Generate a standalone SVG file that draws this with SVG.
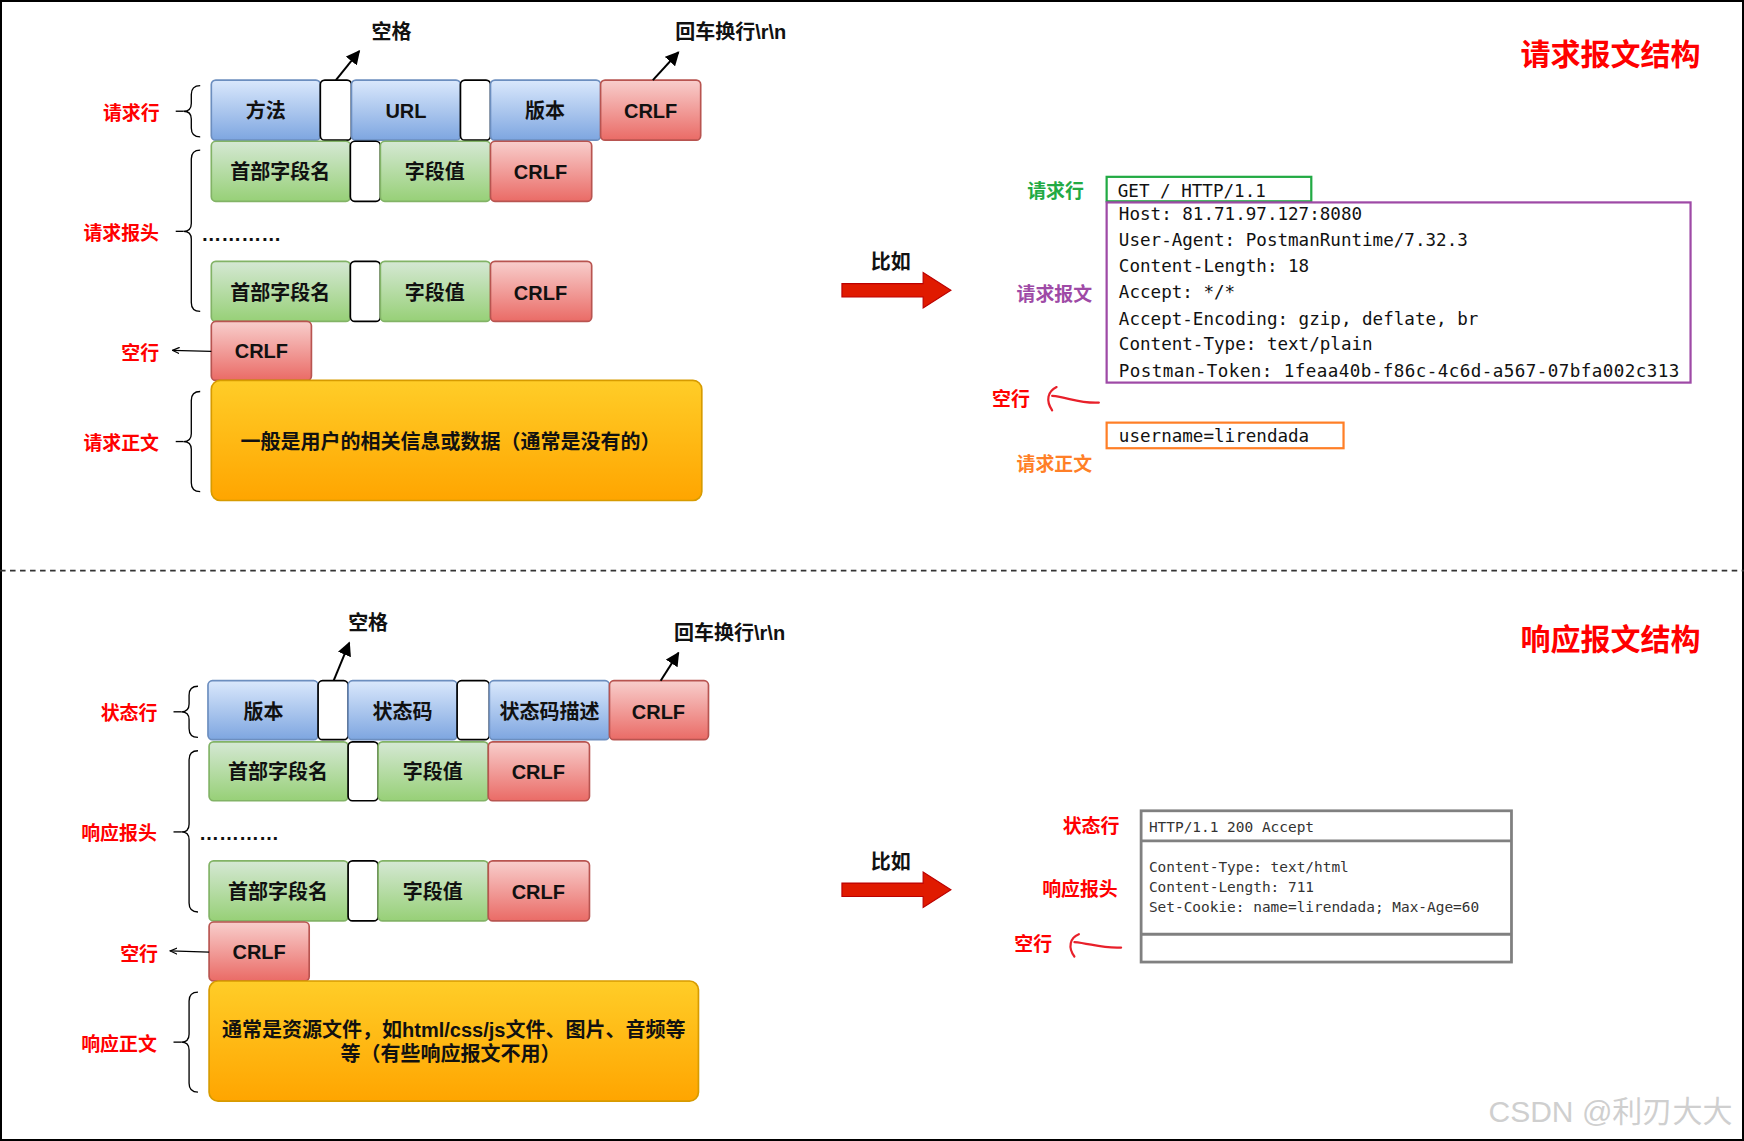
<svg xmlns="http://www.w3.org/2000/svg" width="1744" height="1141" viewBox="0 0 1744 1141">
<defs>
<linearGradient id="gb" x1="0" y1="0" x2="0" y2="1"><stop offset="0" stop-color="#dae8fc"/><stop offset="1" stop-color="#7ea6e0"/></linearGradient>
<linearGradient id="gg" x1="0" y1="0" x2="0" y2="1"><stop offset="0" stop-color="#d5e8d4"/><stop offset="1" stop-color="#97d077"/></linearGradient>
<linearGradient id="gr" x1="0" y1="0" x2="0" y2="1"><stop offset="0" stop-color="#f8cecc"/><stop offset="1" stop-color="#ea6b66"/></linearGradient>
<linearGradient id="go" x1="0" y1="0" x2="0" y2="1"><stop offset="0" stop-color="#ffcd28"/><stop offset="1" stop-color="#ffa500"/></linearGradient>
<marker id="ah" viewBox="0 0 10 10" refX="9" refY="5" markerWidth="7" markerHeight="7" orient="auto"><path d="M0,0 L10,5 L0,10 z" fill="#000"/></marker>
<marker id="ao" viewBox="0 0 10 10" refX="9" refY="5" markerWidth="6" markerHeight="6" orient="auto"><path d="M0,1 L9,5 L0,9" fill="none" stroke="#000" stroke-width="1.5"/></marker>
</defs>
<style>
.b{fill:url(#gb);stroke:#6c8ebf;stroke-width:1.5}
.g{fill:url(#gg);stroke:#82b366;stroke-width:1.5}
.r{fill:url(#gr);stroke:#b85450;stroke-width:1.5}
.o{fill:url(#go);stroke:#d79b00;stroke-width:1.5}
.w{fill:#fff;stroke:#000;stroke-width:1.5}
.t{font-family:"Liberation Sans","Noto Sans CJK SC",sans-serif;font-weight:bold;font-size:18px;text-anchor:middle;dominant-baseline:central;fill:#111}
.l{font-family:"Noto Sans CJK SC",sans-serif;font-weight:bold;font-size:17px;text-anchor:middle;dominant-baseline:central;fill:#f00}
.h{font-family:"Noto Sans CJK SC",sans-serif;font-weight:bold;font-size:27px;text-anchor:middle;dominant-baseline:central;fill:#f00}
.m{font-family:"DejaVu Sans Mono","Liberation Mono",monospace;font-size:15.8px;fill:#111}
.s{font-family:"DejaVu Sans Mono","Liberation Mono",monospace;font-size:13px;fill:#333}
.br{fill:none;stroke:#000;stroke-width:1.2}
.ln{fill:none;stroke:#000;stroke-width:1.8}
</style>
<rect x="0" y="0" width="1744" height="1141" fill="#fff"/>
<rect x="1" y="1" width="1742" height="1139" fill="none" stroke="#000" stroke-width="2"/>
<g transform="scale(1.1122)">
<line x1="0" y1="513" x2="1568" y2="513" stroke="#333" stroke-width="1.5" stroke-dasharray="5,4"/>

<g id="req-line">
<rect class="b" x="190" y="72" width="98" height="54" rx="4"/><text class="t" x="239" y="100">方法</text>
<rect class="w" x="288" y="72" width="28" height="54" rx="4"/>
<rect class="b" x="316" y="72" width="98" height="54" rx="4"/><text class="t" x="365" y="100">URL</text>
<rect class="w" x="414" y="72" width="27" height="54" rx="4"/>
<rect class="b" x="441" y="72" width="99" height="54" rx="4"/><text class="t" x="490" y="100">版本</text>
<rect class="r" x="540" y="72" width="90" height="54" rx="4"/><text class="t" x="585" y="100">CRLF</text>
</g>
<g id="req-h1">
<rect class="g" x="190" y="127" width="125" height="54" rx="4"/><text class="t" x="252" y="155">首部字段名</text>
<rect class="w" x="315" y="127" width="27" height="54" rx="4"/>
<rect class="g" x="342" y="127" width="99" height="54" rx="4"/><text class="t" x="391" y="155">字段值</text>
<rect class="r" x="441" y="127" width="91" height="54" rx="4"/><text class="t" x="486" y="155">CRLF</text>
</g>
<g id="req-dots"><text class="t" x="217" y="210" font-size="11">…………</text></g>
<g id="req-h2">
<rect class="g" x="190" y="235" width="125" height="54" rx="4"/><text class="t" x="252" y="263">首部字段名</text>
<rect class="w" x="315" y="235" width="27" height="54" rx="4"/>
<rect class="g" x="342" y="235" width="99" height="54" rx="4"/><text class="t" x="391" y="263">字段值</text>
<rect class="r" x="441" y="235" width="91" height="54" rx="4"/><text class="t" x="486" y="263">CRLF</text>
</g>
<g id="req-empty"><rect class="r" x="190" y="289" width="90" height="53" rx="4"/><text class="t" x="235" y="316">CRLF</text></g>
<g id="req-body"><rect class="o" x="190" y="342" width="441" height="108" rx="8"/><text class="t" x="405" y="397" font-size="17">一般是用户的相关信息或数据（通常是没有的）</text></g>
<g id="req-labels">
<text class="l" x="118" y="100">请求行</text>
<text class="l" x="109" y="208">请求报头</text>
<text class="l" x="126" y="316">空行</text>
<text class="l" x="109" y="397">请求正文</text>
<text class="t" x="352" y="29" font-size="17">空格</text>
<text class="t" x="657" y="29" font-size="17">回车换行\r\n</text>
<text class="h" x="1448" y="47">请求报文结构</text>
</g>
<g id="connectors-req">
<path class="br" d="M180,77 q-8,0 -8,8 v8 q0,7 -7,7 q7,0 7,7 v8 q0,8 8,8"/>
<path class="br" d="M180,135 q-8,0 -8,8 v58 q0,7 -7,7 q7,0 7,7 v57 q0,8 8,8"/>
<path class="br" d="M180,352 q-8,0 -8,8 v30 q0,7 -7,7 q7,0 7,7 v30 q0,8 8,8"/>
<line class="br" x1="165" y1="100" x2="158" y2="100"/>
<line class="br" x1="165" y1="208" x2="158" y2="208"/>
<line class="br" x1="165" y1="397" x2="158" y2="397"/>
<line x1="190" y1="316" x2="155" y2="315" stroke="#000" stroke-width="1.2" marker-end="url(#ao)"/>
<line class="ln" x1="302" y1="72" x2="323" y2="46" marker-end="url(#ah)"/>
<line class="ln" x1="587" y1="72" x2="610" y2="47" marker-end="url(#ah)"/>
</g>
<g id="req-example">
<text class="t" x="801" y="236" font-size="17">比如</text>
<path d="M757,255 H830 V245 L855,261 L830,277 V267 H757 Z" fill="#e01a00" stroke="#b00" stroke-width="1"/>
<text class="l" x="949" y="170" style="fill:#22aa44">请求行</text>
<rect x="995" y="159" width="184" height="22" fill="none" stroke="#22aa44" stroke-width="2"/>
<text class="m" x="1005" y="177">GET / HTTP/1.1</text>
<rect x="995" y="182" width="525" height="162" fill="none" stroke="#9e4aa6" stroke-width="2"/>
<text class="l" x="948" y="263" style="fill:#9e4aa6">请求报文</text>
<text class="m" x="1006" y="198">Host: 81.71.97.127:8080</text>
<text class="m" x="1006" y="221">User-Agent: PostmanRuntime/7.32.3</text>
<text class="m" x="1006" y="245">Content-Length: 18</text>
<text class="m" x="1006" y="268">Accept: */*</text>
<text class="m" x="1006" y="292">Accept-Encoding: gzip, deflate, br</text>
<text class="m" x="1006" y="315">Content-Type: text/plain</text>
<text class="m" x="1006" y="339" textLength="504" lengthAdjust="spacing">Postman-Token: 1feaa40b-f86c-4c6d-a567-07bfa002c313</text>
<text class="l" x="909" y="357">空行</text>
<path d="M988,362 C970,363 960,357 946,356 M950,348 C942,352 940,360 946,369" fill="none" stroke="#e8202a" stroke-width="2" stroke-linecap="round"/>
<rect x="995" y="380" width="213" height="23" fill="none" stroke="#ff7f27" stroke-width="2"/>
<text class="m" x="1006" y="397">username=lirendada</text>
<text class="l" x="948" y="416" style="fill:#ff7f27">请求正文</text>
</g>

<g id="res-line">
<rect class="b" x="187" y="612" width="99" height="53" rx="4"/><text class="t" x="237" y="640">版本</text>
<rect class="w" x="286" y="612" width="27" height="53" rx="4"/>
<rect class="b" x="313" y="612" width="98" height="53" rx="4"/><text class="t" x="362" y="640">状态码</text>
<rect class="w" x="411" y="612" width="29" height="53" rx="4"/>
<rect class="b" x="440" y="612" width="108" height="53" rx="4"/><text class="t" x="494" y="640">状态码描述</text>
<rect class="r" x="548" y="612" width="89" height="53" rx="4"/><text class="t" x="592" y="640">CRLF</text>
</g>
<g id="res-h1">
<rect class="g" x="188" y="667" width="125" height="53" rx="4"/><text class="t" x="250" y="694">首部字段名</text>
<rect class="w" x="313" y="667" width="27" height="53" rx="4"/>
<rect class="g" x="340" y="667" width="99" height="53" rx="4"/><text class="t" x="389" y="694">字段值</text>
<rect class="r" x="439" y="667" width="91" height="53" rx="4"/><text class="t" x="484" y="694">CRLF</text>
</g>
<g id="res-dots"><text class="t" x="215" y="749" font-size="11">…………</text></g>
<g id="res-h2">
<rect class="g" x="188" y="774" width="125" height="54" rx="4"/><text class="t" x="250" y="802">首部字段名</text>
<rect class="w" x="313" y="774" width="27" height="54" rx="4"/>
<rect class="g" x="340" y="774" width="99" height="54" rx="4"/><text class="t" x="389" y="802">字段值</text>
<rect class="r" x="439" y="774" width="91" height="54" rx="4"/><text class="t" x="484" y="802">CRLF</text>
</g>
<g id="res-empty"><rect class="r" x="188" y="829" width="90" height="53" rx="4"/><text class="t" x="233" y="856">CRLF</text></g>
<g id="res-body"><rect class="o" x="188" y="882" width="440" height="108" rx="8"/>
<text class="t" x="408" y="926" font-size="17">通常是资源文件，如html/css/js文件、图片、音频等</text>
<text class="t" x="405" y="948" font-size="17">等（有些响应报文不用）</text></g>
<g id="res-labels">
<text class="l" x="116" y="640">状态行</text>
<text class="l" x="107" y="748">响应报头</text>
<text class="l" x="125" y="856">空行</text>
<text class="l" x="107" y="937">响应正文</text>
<text class="t" x="331" y="560" font-size="17">空格</text>
<text class="t" x="656" y="569" font-size="17">回车换行\r\n</text>
<text class="h" x="1448" y="573">响应报文结构</text>
</g>
<g id="connectors-res">
<path class="br" d="M178,617 q-8,0 -8,8 v8 q0,7 -7,7 q7,0 7,7 v8 q0,8 8,8"/>
<path class="br" d="M178,675 q-8,0 -8,8 v58 q0,7 -7,7 q7,0 7,7 v57 q0,8 8,8"/>
<path class="br" d="M178,892 q-8,0 -8,8 v30 q0,7 -7,7 q7,0 7,7 v30 q0,8 8,8"/>
<line class="br" x1="163" y1="640" x2="156" y2="640"/>
<line class="br" x1="163" y1="748" x2="156" y2="748"/>
<line class="br" x1="163" y1="937" x2="156" y2="937"/>
<line x1="188" y1="856" x2="153" y2="855" stroke="#000" stroke-width="1.2" marker-end="url(#ao)"/>
<line class="ln" x1="300" y1="612" x2="314" y2="578" marker-end="url(#ah)"/>
<line class="ln" x1="594" y1="612" x2="610" y2="587" marker-end="url(#ah)"/>
</g>
<g id="res-example">
<text class="t" x="801" y="775" font-size="17">比如</text>
<path d="M757,794 H830 V784 L855,800 L830,816 V806 H757 Z" fill="#e01a00" stroke="#b00" stroke-width="1"/>
<rect x="1026" y="729" width="333" height="136" fill="none" stroke="#808080" stroke-width="2.5"/>
<line x1="1026" y1="756" x2="1359" y2="756" stroke="#808080" stroke-width="2.5"/>
<line x1="1026" y1="840" x2="1359" y2="840" stroke="#808080" stroke-width="2.5"/>
<text class="s" x="1033" y="748">HTTP/1.1 200 Accept</text>
<text class="s" x="1033" y="784">Content-Type: text/html</text>
<text class="s" x="1033" y="802">Content-Length: 711</text>
<text class="s" x="1033" y="820">Set-Cookie: name=lirendada; Max-Age=60</text>
<text class="l" x="981" y="741">状态行</text>
<text class="l" x="971" y="798">响应报头</text>
<text class="l" x="929" y="847">空行</text>
<path d="M1008,852 C990,853 980,848 966,847 M970,840 C962,843 960,852 966,860" fill="none" stroke="#e8202a" stroke-width="2" stroke-linecap="round"/>
</g>
<text x="1448" y="999" font-family="Liberation Sans,Noto Sans CJK SC,sans-serif" font-size="27" fill="#cfcfcf" text-anchor="middle" dominant-baseline="central">CSDN @利刃大大</text>
</g>
</svg>
